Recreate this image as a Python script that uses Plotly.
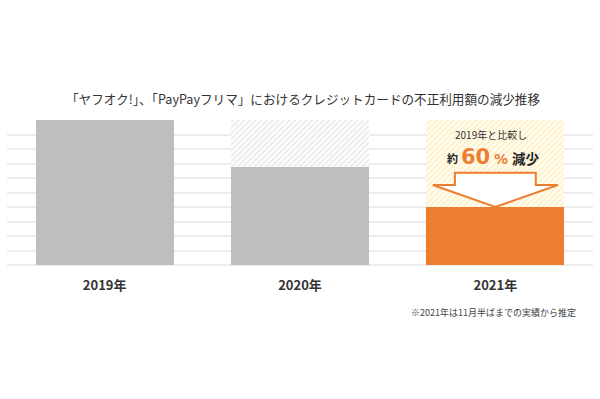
import plotly.graph_objects as go

# ---- data ----
years = ["2019年", "2020年", "2021年"]
positions = [0, 1, 2]
fraud_index = [10.0, 6.78, 4.0]          # relative fraud amount (2019 = 10)
ref_level = 10.0                          # 2019 level used for hatched comparison
title_text = "「ヤフオク!」、「PayPayフリマ」におけるクレジットカードの不正利用額の減少推移"
note_text = "※2021年は11月半ばまでの実績から推定"

GRAY = "#BEBEBE"
ORANGE = "#ED7D31"
FONT = "Noto Sans CJK JP"
BW = 0.706

fig = go.Figure()

# hatched "gap to 2019" regions
fig.add_trace(go.Bar(
    x=[positions[1]], y=[ref_level - fraud_index[1]], base=[fraud_index[1]],
    width=BW, marker=dict(color="white", line=dict(width=0),
                          pattern=dict(shape="/", fgcolor="#D4D4D4", bgcolor="white",
                                       size=4, solidity=0.45)),
    hoverinfo="skip", showlegend=False))
fig.add_trace(go.Bar(
    x=[positions[2]], y=[ref_level - fraud_index[2]], base=[fraud_index[2]],
    width=BW, marker=dict(color="white", line=dict(width=0),
                          pattern=dict(shape="/", fgcolor="#FFE08C", bgcolor="#FFFDF5",
                                       size=4, solidity=0.4)),
    hoverinfo="skip", showlegend=False))

# main bars
fig.add_trace(go.Bar(
    x=positions, y=fraud_index, width=BW,
    marker=dict(color=[GRAY, GRAY, ORANGE], line=dict(width=0)),
    showlegend=False))

# arrow (data coords relative to 2021 bar)
cx = positions[2]
v = fraud_index[2]
hw, sw = 0.32, 0.207
head_top, shaft_top = v + 1.52, v + 2.37
path = (f"M {cx-sw},{shaft_top} L {cx+sw},{shaft_top} L {cx+sw},{head_top} "
        f"L {cx+hw},{head_top} L {cx},{v} L {cx-hw},{head_top} L {cx-sw},{head_top} Z")
fig.add_shape(type="path", path=path, xref="x", yref="y",
              fillcolor="white", line=dict(color=ORANGE, width=2))

# texts in the 2021 panel
fig.add_annotation(x=cx - 0.02, y=9.0, xref="x", yref="y", text="2019年と比較し",
                   showarrow=False, font=dict(family=FONT, size=10, color="#333"))
fig.add_annotation(x=cx - 0.22, y=7.4, xref="x", yref="y", text="<b>約</b>",
                   showarrow=False, font=dict(family=FONT, size=11, color="#222"))
fig.add_annotation(x=cx - 0.10, y=7.45, xref="x", yref="y", text="<b>60</b>",
                   showarrow=False,
                   font=dict(family="DejaVu Sans", size=21, color=ORANGE,
                             shadow="0 0 1px #fff"))
fig.add_annotation(x=cx + 0.03, y=7.3, xref="x", yref="y", text="<b>%</b>",
                   showarrow=False,
                   font=dict(family="DejaVu Sans", size=14, color=ORANGE))
fig.add_annotation(x=cx + 0.155, y=7.4, xref="x", yref="y", text="<b>減少</b>",
                   showarrow=False, font=dict(family=FONT, size=13.5, color="#222"))

# footnote
fig.add_annotation(x=0.974, y=-0.326, xref="paper", yref="paper", text=note_text,
                   xanchor="right", yanchor="middle", showarrow=False,
                   font=dict(family=FONT, size=9, color="#444"))

fig.update_layout(
    width=600, height=399,
    margin=dict(l=7, r=7, t=120, b=134),
    paper_bgcolor="white", plot_bgcolor="white",
    barmode="overlay", bargap=0,
    title=dict(text=title_text, x=0.505, xanchor="center", y=1 - 100 / 399, yanchor="middle",
               font=dict(family=FONT, size=12.6, color="#333")),
    xaxis=dict(range=[-0.5, 2.5], tickvals=positions,
               ticktext=[f"<b>{t}</b>" for t in years],
               tickfont=dict(family=FONT, size=13, color="#333"),
               showgrid=False, zeroline=False, showline=False, ticks="",
               ticklabelstandoff=11),
    yaxis=dict(range=[0, 10], dtick=1, showticklabels=False, ticks="",
               showgrid=True, gridcolor="#EDEDED", gridwidth=1.5,
               zeroline=True, zerolinecolor="#EDEDED", zerolinewidth=1.5,
               showline=False),
    font=dict(family=FONT),
)

fig.write_html("out.html", config={"displayModeBar": False},
               post_script="document.body.style.margin='0';document.body.style.overflow='hidden';")
